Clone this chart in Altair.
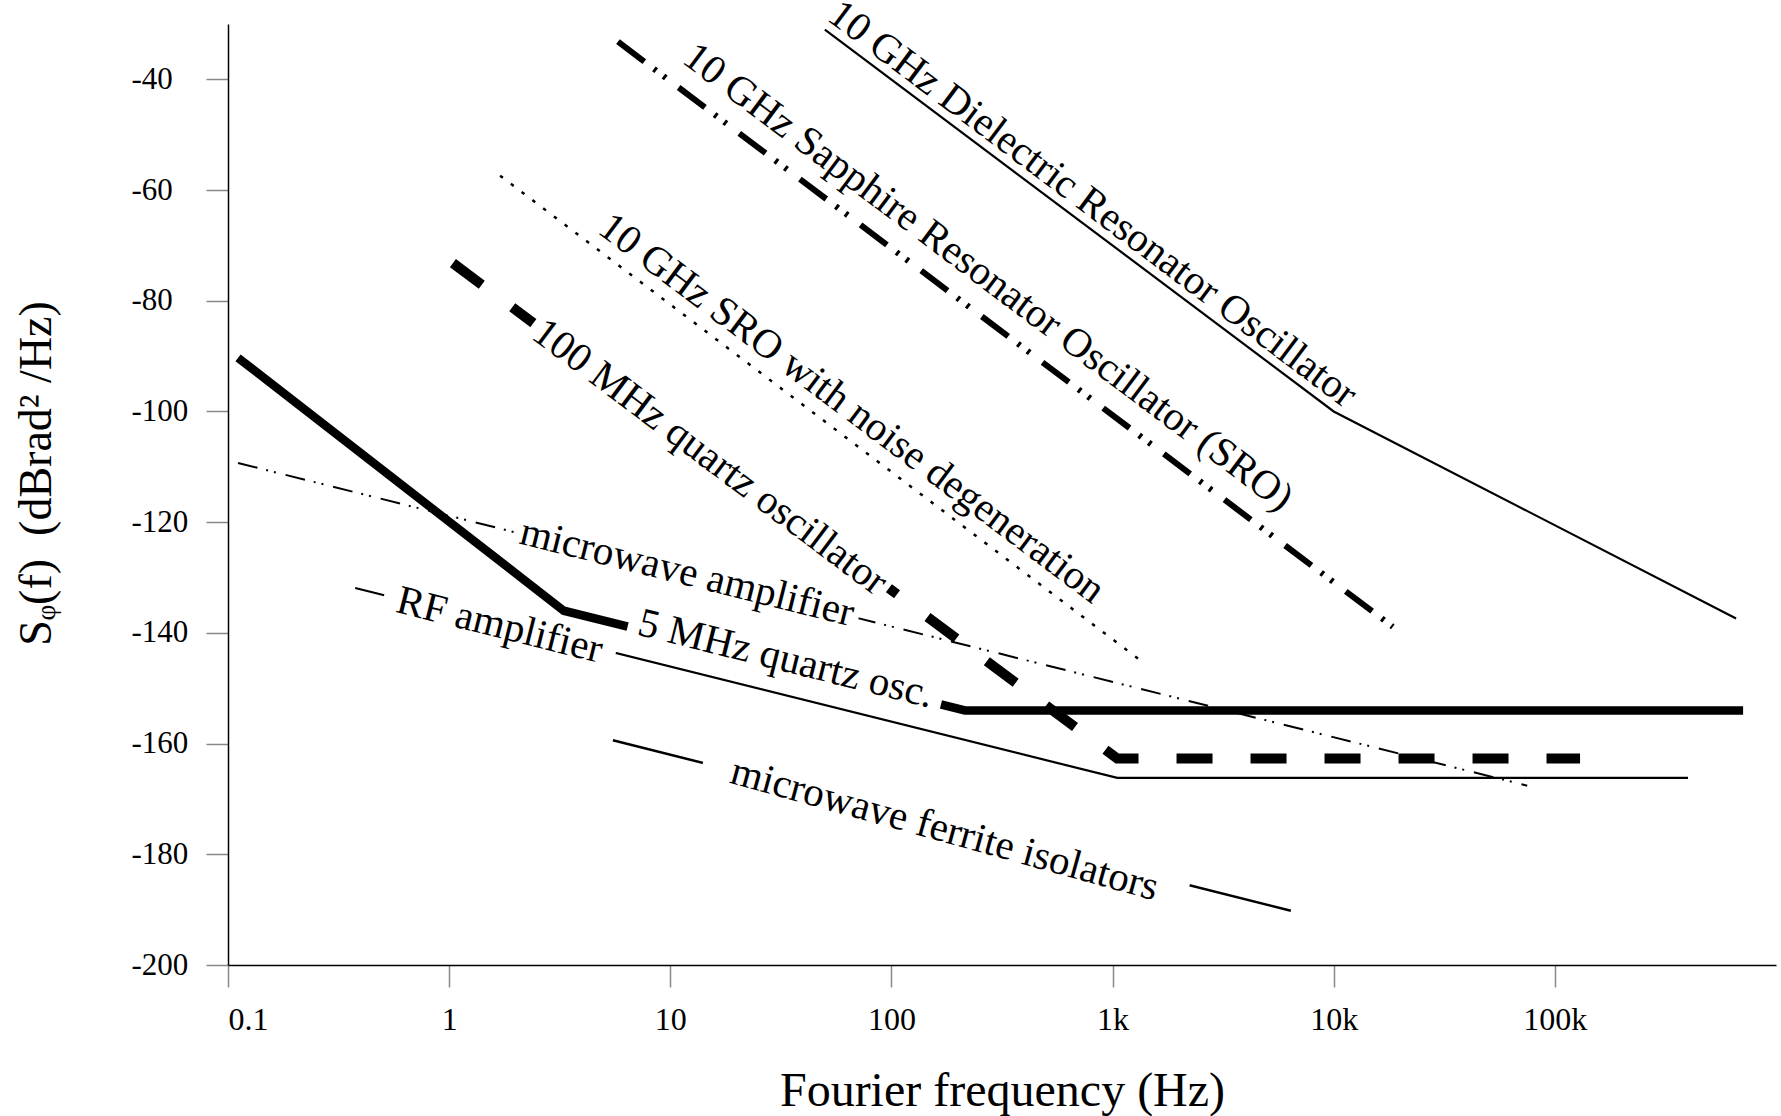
import altair as alt
import pandas as pd

# ---------------- data (Fourier frequency in Hz, S_phi in dBrad^2/Hz) ----------------
dro_f = [50, 1.0e4, 6.6e5]
dro_s = [-31.0, -100.0, -137.4]

sro_f = [5.8, 1.85e4]
sro_s = [-33.2, -138.9]

srond_f = [1.7, 1.36e3]
srond_s = [-57.4, -145.2]

q100_f = [1.04, 1.05e3, 1.3e5]
q100_s = [-73.2, -162.7, -162.7]

q5_f = [0.111, 3.3, 215, 7.1e5]
q5_s = [-90.3, -136.0, -154.0, -154.0]

mwamp_f = [0.111, 7.5e4]
mwamp_s = [-109.3, -167.6]

rf_f = [0.376, 1.05e3, 4.0e5]
rf_s = [-131.9, -166.2, -166.2]

fer_f = [5.5, 6.4e3]
fer_s = [-159.4, -190.2]

series_names = ["dro", "sro", "srond", "q100", "q5", "mwamp", "rf", "fer"]
series_f = [dro_f, sro_f, srond_f, q100_f, q5_f, mwamp_f, rf_f, fer_f]
series_s = [dro_s, sro_s, srond_s, q100_s, q5_s, mwamp_s, rf_s, fer_s]

# labels
steep_text = ["10 GHz Dielectric Resonator Oscillator",
              "10 GHz Sapphire Resonator Oscillator (SRO)",
              "10 GHz SRO with noise degeneration"]
steep_f = [811, 273, 66]
steep_s = [-62.6, -75.8, -99.5]

knock_steep_text = ["100 MHz quartz oscillator"]
knock_steep_f = [15.1]
knock_steep_s = [-108.3]

knock_flat_text = ["microwave amplifier", "RF amplifier", "5 MHz quartz osc."]
knock_flat_f = [11.9, 1.69, 33.3]
knock_flat_s = [-129.2, -138.7, -144.8]

ferrite_text = ["microwave ferrite isolators"]
ferrite_f = [174]
ferrite_s = [-175.6]

x_ticks = [0.1, 1, 10, 100, 1000, 1e4, 1e5]
y_ticks = [-40, -60, -80, -100, -120, -140, -160, -180, -200]

# ---------------- styling helpers ----------------
FONT = "Liberation Serif"
LABEL_SIZE = 41
STEEP = 36.9
FLAT = 14.05
FER = 15.5

# Times/Liberation Serif advance widths (em/1000) for text-box knockouts
_W = {" ": 250, ".": 250, "(": 333, ")": 333, "H": 722, "M": 889, "R": 667, "F": 556,
      "O": 722, "S": 556, "G": 722, "D": 722, "a": 444, "c": 444, "e": 444, "f": 333,
      "i": 278, "l": 278, "m": 778, "o": 500, "p": 500, "q": 500, "r": 333, "s": 389,
      "t": 278, "u": 500, "v": 500, "w": 722, "z": 444, "n": 500, "d": 500, "g": 500,
      "h": 500}
KNOCK_PAD = {"100 MHz quartz oscillator": 6, "microwave amplifier": 6, "RF amplifier": 14,
             "5 MHz quartz osc.": 10, "microwave ferrite isolators": 30}
KNOCK_H = 30


def text_w(t):
    return sum(_W.get(c, 500) for c in t) * LABEL_SIZE / 1000.0


def knock_cols(df):
    out = df.copy()
    w = [text_w(t) + 2 * KNOCK_PAD[t] for t in out["label"]]
    out["size"] = [v * v for v in w]
    out["path"] = ["M-1,{r:.4f}L1,{r:.4f}L1,{n:.4f}L-1,{n:.4f}Z".format(r=-KNOCK_H / v, n=KNOCK_H / v)
                   for v in w]
    return out


# ---------------- tables ----------------
rows = []
for name, fs, ss in zip(series_names, series_f, series_s):
    for i, (f, s) in enumerate(zip(fs, ss)):
        rows.append({"series": name, "order": i, "f": f, "s": s})
lines_df = pd.DataFrame(rows)

steep_df = pd.DataFrame({"label": steep_text, "f": steep_f, "s": steep_s})
ks_df = knock_cols(pd.DataFrame({"label": knock_steep_text, "f": knock_steep_f, "s": knock_steep_s}))
kf_df = knock_cols(pd.DataFrame({"label": knock_flat_text, "f": knock_flat_f, "s": knock_flat_s}))
fe_df = knock_cols(pd.DataFrame({"label": ferrite_text, "f": ferrite_f, "s": ferrite_s}))

x_enc = alt.X("f:Q",
              scale=alt.Scale(type="log", domain=[0.1, 1e6], nice=False),
              axis=alt.Axis(values=x_ticks,
                            labelExpr="datum.value < 1 ? '0.1' : (datum.value < 1000 ? format(datum.value, 'd') : format(datum.value / 1000, 'd') + 'k')",
                            title="Fourier frequency (Hz)",
                            grid=False, tickSize=22, tickColor="#888888", tickWidth=1.5,
                            domainColor="black", domainWidth=1.5,
                            labelFont=FONT, labelFontSize=32, labelColor="black",
                            labelPadding=17, labelBaseline="top",
                            titleFont=FONT, titleFontSize=48, titleFontWeight="normal",
                            titleColor="black", titleY=140, titleBaseline="alphabetic"))
y_enc = alt.Y("s:Q",
              scale=alt.Scale(domain=[-200, -30], nice=False, zero=False),
              axis=alt.Axis(values=y_ticks,
                            labelExpr="'-' + abs(datum.value)",
                            title="S\u1d69(f)\u00a0\u00a0(dBrad\u00b2\u00a0/Hz)",
                            grid=False, tickSize=22, tickColor="#888888", tickWidth=1.5,
                            domainColor="black", domainWidth=1.5,
                            labelFont=FONT, labelFontSize=31, labelColor="black",
                            labelAlign="left", labelPadding=75,
                            titleFont=FONT, titleFontSize=46, titleFontWeight="normal",
                            titleColor="black", titleAngle=270, titleX=-178, titleY=449,
                            titleAlign="center", titleBaseline="alphabetic"))

styles = {
    "dro":   dict(strokeWidth=2.2),
    "sro":   dict(strokeWidth=6, strokeDash=[33, 12, 3, 9, 3, 16]),
    "srond": dict(strokeWidth=2.5, strokeDash=[3.5, 10]),
    "q100":  dict(strokeWidth=10, strokeDash=[36, 38]),
    "q5":    dict(strokeWidth=8.5),
    "mwamp": dict(strokeWidth=2, strokeDash=[20, 9, 2, 6, 2, 10]),
    "rf":    dict(strokeWidth=2.2),
    "fer":   dict(strokeWidth=2.5),
}

layers = []
for name in series_names:
    layers.append(
        alt.Chart(lines_df)
        .transform_filter(alt.datum.series == name)
        .mark_line(color="black", strokeCap="butt", strokeJoin="miter", **styles[name])
        .encode(x=x_enc, y=y_enc, order="order:Q")
    )


def knock_layer(df, angle):
    return (alt.Chart(df)
            .mark_point(filled=True, color="white", opacity=1, strokeWidth=0, angle=angle)
            .encode(x=x_enc, y=y_enc,
                    shape=alt.Shape("path:N", scale=None),
                    size=alt.Size("size:Q", scale=None)))


def text_layer(df, angle):
    return (alt.Chart(df)
            .mark_text(font=FONT, fontSize=LABEL_SIZE, angle=angle, align="center",
                       baseline="middle", color="black")
            .encode(x=x_enc, y=y_enc, text="label:N"))


layers.append(knock_layer(ks_df, STEEP))
layers.append(knock_layer(kf_df, FLAT))
layers.append(knock_layer(fe_df, FER))
layers.append(text_layer(steep_df, STEEP))
layers.append(text_layer(ks_df, STEEP))
layers.append(text_layer(kf_df, FLAT))
layers.append(text_layer(fe_df, FER))

chart = (
    alt.layer(*layers)
    .properties(width=1548, height=941,
                padding={"left": 228, "top": 24, "right": 5, "bottom": 151},
                autosize=alt.AutoSizeParams(type="none"),
                background="white")
    .configure_view(stroke=None)
)

chart.save("out.html", embed_options={"renderer": "svg", "actions": False})
